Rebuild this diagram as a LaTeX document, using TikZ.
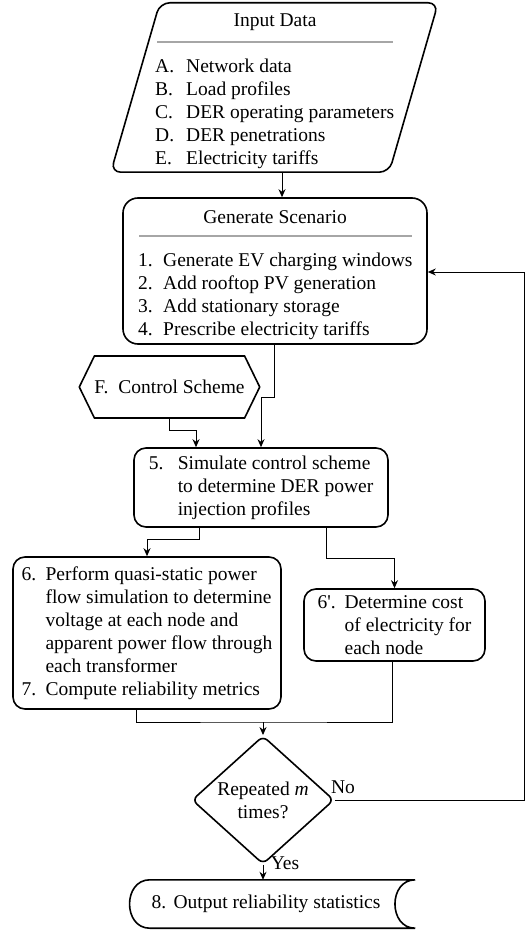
\documentclass[tikz,border=0pt]{standalone}
\usepackage{fontspec}
\setmainfont{Liberation Serif}
\usetikzlibrary{shapes.geometric,shapes.symbols,arrows.meta}

\begin{document}
\begin{tikzpicture}[x=1pt, y=-1pt,
  every node/.style={font=\fontsize{19.5}{23}\selectfont},
  box/.style={rectangle, draw, line width=1.6pt, rounded corners=12pt, inner sep=0pt, align=left},
  frame/.style={rectangle, inner sep=0pt},
  txt/.style={inner sep=0pt, align=left},
  arr/.style={-{Stealth[length=8pt,width=7pt]}, line width=1pt},
  lin/.style={line width=1pt},
  rule/.style={draw=black!35, line width=1.5pt}
]
\useasboundingbox (0,0) rectangle (526,933);

\node[frame, minimum width=278pt, minimum height=169pt] (input) at (274.5,87.5) {};
\draw[line width=1.6pt, rounded corners=10pt] ([xshift=-24.5pt]input.south west) -- ([xshift=-24.5pt]input.south east) -- ([xshift=24.5pt]input.north east) -- ([xshift=24.5pt]input.north west) -- cycle;
\node (intitle) at (275,22) {Input Data};
\draw[rule] (157,42) -- (393,42);
\node[txt, anchor=west] (inlist) at (155,113.5) {\makebox[31pt][l]{A.}Network data\\ \makebox[31pt][l]{B.}Load profiles\\ \makebox[31pt][l]{C.}DER operating parameters\\ \makebox[31pt][l]{D.}DER penetrations\\ \makebox[31pt][l]{E.}Electricity tariffs};

\node[box, rounded corners=15pt, minimum width=304pt, minimum height=146pt] (gen) at (275,271) {};
\node (gentitle) at (275,217) {Generate Scenario};
\draw[rule] (139,236) -- (412,236);
\node[txt, anchor=west] (genlist) at (138,296) {\makebox[25pt][l]{1.}Generate EV charging windows\\ \makebox[25pt][l]{2.}Add rooftop PV generation\\ \makebox[25pt][l]{3.}Add stationary storage\\ \makebox[25pt][l]{4.}Prescribe electricity tariffs};

\node[signal, signal to=west and east, signal pointer angle=128, draw, line width=1.6pt, minimum width=171pt, minimum height=62pt, inner sep=0pt] (ctrl) at (169.5,387) {\makebox[24pt][l]{F.}Control Scheme};

\node[box, minimum width=254pt, minimum height=79pt] (sim) at (261,487.5) {\makebox[29pt][l]{5.}Simulate control scheme\\ \hspace*{29pt}to determine DER power\\ \hspace*{29pt}injection profiles};

\node[box, minimum width=268pt, minimum height=152pt] (perf) at (147,633) {\makebox[24pt][l]{6.}Perform quasi-static power\\ \hspace*{24pt}flow simulation to determine\\ \hspace*{24pt}voltage at each node and\\ \hspace*{24pt}apparent power flow through\\ \hspace*{24pt}each transformer\\ \makebox[24pt][l]{7.}Compute reliability metrics};

\node[box, minimum width=181pt, minimum height=72pt] (cost) at (394.5,625) {\makebox[27pt][l]{6\textquotesingle.}Determine cost\\ \hspace*{27pt}of electricity for\\ \hspace*{27pt}each node};

\node[diamond, draw, line width=1.6pt, rounded corners=6pt, minimum width=142pt, minimum height=106pt, inner sep=0pt, align=center] (dec) at (263,800) {Repeated \textit{m}\\times?};

\node[frame, minimum width=265pt, minimum height=48pt] (out) at (282.5,904) {};
\draw[line width=1.6pt] (out.north east) -- (out.north west) .. controls ([xshift=-27pt]out.north west) and ([xshift=-27pt]out.south west) .. (out.south west) -- (out.south east) .. controls ([xshift=-27pt]out.south east) and ([xshift=-27pt]out.north east) .. (out.north east);
\node (outtext) at (266,904) {\makebox[22pt][l]{8.}Output reliability statistics};

\draw[arr] ([xshift=7pt]gen.north |- input.south) -- ([xshift=7pt]gen.north);
\draw[arr] ([xshift=-1pt]gen.south) -- ++(0,53) -| (sim.north);
\draw[arr] (ctrl.south) -- ++(0,12) -| ([xshift=-65pt]sim.north);
\draw[arr] ([xshift=-62pt]sim.south) -- ++(0,12) -| (perf.north);
\draw[arr] ([xshift=65pt]sim.south) -- ++(0,31) -| (cost.north);
\coordinate (mrg) at (263,722);
\draw[lin] ([xshift=-11pt]perf.south) |- (mrg) -| ([xshift=-2.5pt]cost.south);
\draw[arr] (mrg) -- (dec.north);
\coordinate (loop) at (524,272);
\draw[arr] (dec.east) -| (loop) -- (gen.east |- loop);
\node (no) at (343,787) {No};
\draw[arr] (dec.south) -- (dec.south |- out.north);
\node (yes) at (285,863) {Yes};
\end{tikzpicture}
\end{document}
